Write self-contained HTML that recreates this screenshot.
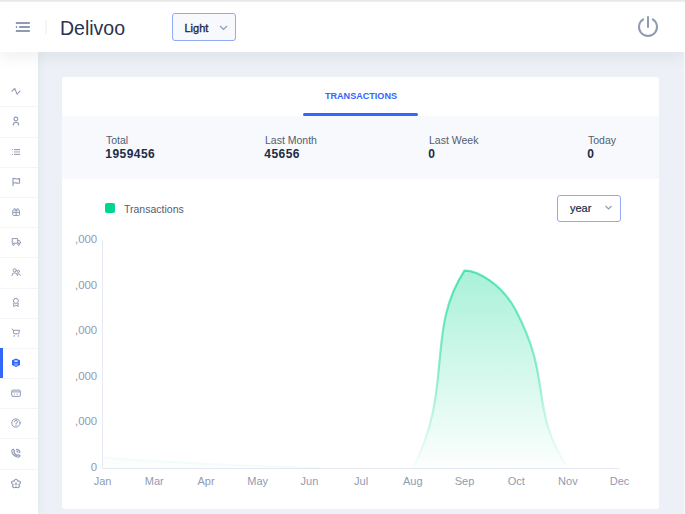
<!DOCTYPE html>
<html><head><meta charset="utf-8">
<style>
*{box-sizing:border-box;margin:0;padding:0}
html,body{width:685px;height:514px;overflow:hidden}
body{background:#edf1f7;font-family:"Liberation Sans",sans-serif;color:#222b45;position:relative}
.topstrip{position:absolute;left:0;top:0;width:685px;height:2px;background:linear-gradient(#e4e6e6,#f0f1f1);z-index:10}
.header{position:absolute;left:0;top:0;width:685px;height:52px;background:#fff;box-shadow:0 6px 14px 0 rgba(44,51,73,0.07);z-index:5}
.sidebar{position:absolute;left:0;top:52px;width:38px;height:462px;background:#fff;z-index:3;box-shadow:2px 0 8px rgba(44,51,73,0.05)}
.card{position:absolute;left:62px;top:77px;width:597px;height:431.6px;background:#fff;border-radius:3px}
.abs{position:absolute}
.lbl{font-size:10.5px;line-height:13px;color:#535d72;white-space:nowrap}
.val{font-size:12px;line-height:14px;letter-spacing:0.45px;font-weight:bold;color:#222b45;white-space:nowrap}
</style></head><body>
<div class="topstrip"></div>
<div class="header">
  <svg class="abs" style="left:0;top:0" width="40" height="40" viewBox="0 0 40 40">
    <g fill="#8f9bb3">
      <rect x="15.8" y="22" width="14.1" height="1.9" rx="0.5"/>
      <rect x="15.8" y="26" width="1.4" height="1.9" rx="0.3"/>
      <rect x="19" y="26" width="10.9" height="1.9" rx="0.5"/>
      <rect x="15.8" y="30" width="14.1" height="1.9" rx="0.5"/>
    </g>
  </svg>
  <div class="abs" style="left:45px;top:20px;width:1.5px;height:14px;background:#f4f5f9"></div>
  <div class="abs" style="left:60px;top:16px;font-size:19.5px;line-height:24px;color:#2a3350">Delivoo</div>
  <div class="abs" style="left:172px;top:13px;width:64px;height:28px;border:1px solid #91a9f7;border-radius:3px;background:#f7f9fc"></div>
  <div class="abs" style="left:184.5px;top:21px;font-size:11px;line-height:14px;color:#222b45;-webkit-text-stroke:0.35px #222b45">Light</div>
  <svg class="abs" style="left:219px;top:25px" width="9" height="6" viewBox="0 0 9 6"><path d="M1 1 L4.5 4.5 L8 1" stroke="#8f9bb3" stroke-width="1.2" fill="none"/></svg>
  <svg class="abs" style="left:636px;top:14px" width="24" height="24" viewBox="0 0 24 24">
    <path d="M7.2 5.3 A9 9 0 1 0 16.8 5.3" stroke="#8f9bb3" stroke-width="2" fill="none" stroke-linecap="round"/>
    <line x1="12" y1="3" x2="12" y2="13" stroke="#8f9bb3" stroke-width="2" stroke-linecap="round"/>
  </svg>
</div>
<div class="abs" style="left:684px;top:52px;width:1px;height:462px;background:#f6f8fb;z-index:20"></div>
<div class="sidebar">
<div class="abs" style="left:0;top:54.4px;width:38px;height:1px;background:#f2f4f8"></div>
<div class="abs" style="left:0;top:84.6px;width:38px;height:1px;background:#f2f4f8"></div>
<div class="abs" style="left:0;top:114.8px;width:38px;height:1px;background:#f2f4f8"></div>
<div class="abs" style="left:0;top:144.9px;width:38px;height:1px;background:#f2f4f8"></div>
<div class="abs" style="left:0;top:175.1px;width:38px;height:1px;background:#f2f4f8"></div>
<div class="abs" style="left:0;top:205.3px;width:38px;height:1px;background:#f2f4f8"></div>
<div class="abs" style="left:0;top:235.5px;width:38px;height:1px;background:#f2f4f8"></div>
<div class="abs" style="left:0;top:265.7px;width:38px;height:1px;background:#f2f4f8"></div>
<div class="abs" style="left:0;top:295.8px;width:38px;height:1px;background:#f2f4f8"></div>
<div class="abs" style="left:0;top:326.0px;width:38px;height:1px;background:#f2f4f8"></div>
<div class="abs" style="left:0;top:356.2px;width:38px;height:1px;background:#f2f4f8"></div>
<div class="abs" style="left:0;top:386.4px;width:38px;height:1px;background:#f2f4f8"></div>
<div class="abs" style="left:0;top:416.6px;width:38px;height:1px;background:#f2f4f8"></div>
<div class="abs" style="left:0;top:296px;width:3px;height:30px;background:#3366ff"></div>
<svg class="abs" style="left:6px;top:29px" width="20" height="20" viewBox="0 0 20 20"><polyline points="5.8,10.3 8.7,7.4 11.1,13.2 14,10.1" fill="none" stroke="#8f9bb3" stroke-width="1.05" stroke-linejoin="round" stroke-linecap="round"/></svg>
<svg class="abs" style="left:6px;top:59px" width="20" height="20" viewBox="0 0 20 20"><circle cx="9.9" cy="8" r="1.9" fill="none" stroke="#8f9bb3" stroke-width="1.15"/><path d="M7.3 13.9 A2.65 2.65 0 0 1 12.6 13.9" fill="none" stroke="#8f9bb3" stroke-width="1.2" stroke-linecap="round"/></svg>
<svg class="abs" style="left:6px;top:90px" width="20" height="20" viewBox="0 0 20 20"><g fill="#8f9bb3"><rect x="6" y="7" width="1" height="0.9"/><rect x="8" y="7" width="6" height="0.9"/><rect x="6" y="9.5" width="1" height="0.8" opacity=".6"/><rect x="8" y="9.5" width="6" height="0.8" opacity=".6"/><rect x="6" y="12" width="1" height="0.9"/><rect x="8" y="12" width="6" height="0.9"/><rect x="8" y="8.2" width="6" height="3.5" opacity=".25"/></g></svg>
<svg class="abs" style="left:6px;top:120px" width="20" height="20" viewBox="0 0 20 20"><path d="M7 13.6 V6.6 C8.6 5.8 10.2 7.2 11.5 7 C12.4 6.9 13 6.6 13.5 6.5 V11 C12.5 11.6 11 11.2 10 10.9 C9 10.6 8 10.7 7 11.1" fill="none" stroke="#8f9bb3" stroke-width="1.15" stroke-linejoin="round" stroke-linecap="round"/></svg>
<svg class="abs" style="left:6px;top:150px" width="20" height="20" viewBox="0 0 20 20"><g fill="none" stroke="#8f9bb3" stroke-width="1"><rect x="6.7" y="8" width="6.8" height="5.4" rx="0.8"/><line x1="6.7" y1="10.4" x2="13.5" y2="10.4"/><line x1="10.1" y1="8" x2="10.1" y2="13.4"/><path d="M10.1 8 C9 6 7.5 6.2 7.8 7.6 M10.1 8 C11.2 6 12.7 6.2 12.4 7.6"/></g></svg>
<svg class="abs" style="left:6px;top:180px" width="20" height="20" viewBox="0 0 20 20"><g fill="none" stroke="#8f9bb3" stroke-width="1" stroke-linejoin="round"><path d="M6.2 11.2 V6.6 H11.7 V11.2 Z"/><path d="M11.7 8.5 H13.4 L14.4 10 V11.2 H11.7"/><circle cx="7.4" cy="12.5" r="0.9"/><circle cx="12.7" cy="12.5" r="0.9"/></g></svg>
<svg class="abs" style="left:6px;top:210px" width="20" height="20" viewBox="0 0 20 20"><g fill="none" stroke="#8f9bb3" stroke-width="1" stroke-linecap="round"><circle cx="8.7" cy="8.3" r="1.6"/><path d="M5.9 13.6 A2.8 2.8 0 0 1 11.5 13.6"/><circle cx="12.4" cy="9.4" r="1.1"/><path d="M11.3 12 A2 2 0 0 1 14.4 13.4"/></g></svg>
<svg class="abs" style="left:6px;top:241px" width="20" height="20" viewBox="0 0 20 20"><g fill="none" stroke="#8f9bb3" stroke-width="1"><circle cx="9.9" cy="7.9" r="2.5"/><path d="M7.7 10 V13.6 L9.9 12.1 L12.1 13.6 V10"/></g></svg>
<svg class="abs" style="left:6px;top:271px" width="20" height="20" viewBox="0 0 20 20"><g fill="none" stroke="#8f9bb3" stroke-width="1" stroke-linecap="round" stroke-linejoin="round"><path d="M6 5.9 L7.3 7.2 L7.9 10.8 H12.6 L13.6 7.3 H7.4"/></g><circle cx="8.1" cy="12.9" r="0.75" fill="#8f9bb3"/><circle cx="12.4" cy="12.9" r="0.75" fill="#8f9bb3"/></svg>
<svg class="abs" style="left:6px;top:301px" width="20" height="20" viewBox="0 0 20 20"><path d="M10 5.4 L14 7.3 V12 L10 13.9 L6 12 V7.3 Z" fill="#3366ff"/><path d="M8.4 7.4 H11.6 V8.8 H8.4 Z" fill="#fff"/><path d="M8.3 9.9 H11.7 V12.3 L10 13 L8.3 12.3 Z" fill="#fff" opacity="0.45"/><path d="M8.3 10.9 H11.7" stroke="#3366ff" stroke-width="0.6"/></svg>
<svg class="abs" style="left:6px;top:331px" width="20" height="20" viewBox="0 0 20 20"><g fill="none" stroke="#8f9bb3" stroke-width="1"><rect x="5.7" y="7.1" width="8.7" height="6.3" rx="1.3"/><line x1="5.7" y1="8.9" x2="14.4" y2="8.9"/></g><g fill="#8f9bb3"><rect x="7.8" y="10.6" width="1.2" height="1" opacity=".8"/><rect x="10.4" y="10.6" width="1.5" height="1" opacity=".8"/></g></svg>
<svg class="abs" style="left:6px;top:361px" width="20" height="20" viewBox="0 0 20 20"><g fill="none" stroke="#8f9bb3" stroke-width="1" stroke-linecap="round"><circle cx="10" cy="10" r="4.1"/><path d="M8.5 8.8 A1.5 1.4 0 1 1 10.1 10.2 V11"/></g><circle cx="10" cy="12.4" r="0.55" fill="#8f9bb3"/></svg>
<svg class="abs" style="left:6px;top:391px" width="20" height="20" viewBox="0 0 20 20"><g fill="none" stroke="#8f9bb3" stroke-width="1.15" stroke-linecap="round" stroke-linejoin="round"><path d="M7.2 6.2 C6 6.4 5.6 7.4 6 9 C6.8 11.6 8.6 13.3 11.3 14 C12.8 14.3 13.8 13.8 14 12.6 L12.3 11.7 L11.2 12.4 C9.6 11.8 8.4 10.5 7.9 9 L8.6 7.9 Z"/><path d="M10.6 6.3 A3.2 3.2 0 0 1 13.8 9.5"/><path d="M10.4 8 A1.6 1.6 0 0 1 12 9.6"/></g></svg>
<svg class="abs" style="left:6px;top:422px" width="20" height="20" viewBox="0 0 20 20"><g fill="none" stroke="#8f9bb3" stroke-width="1.2" stroke-linejoin="round"><path d="M10 5.3 C11.4 5.3 11.8 6.4 11.9 7.3 C12.9 6.9 14.2 7.1 14.4 8.3 C14.6 9.5 13.6 10.2 12.9 10.6 C13.5 11.5 13.6 12.9 12.6 13.5 C11.6 14.1 10.6 13.4 10 12.8 C9.4 13.4 8.4 14.1 7.4 13.5 C6.4 12.9 6.5 11.5 7.1 10.6 C6.4 10.2 5.4 9.5 5.6 8.3 C5.8 7.1 7.1 6.9 8.1 7.3 C8.2 6.4 8.6 5.3 10 5.3 Z"/></g><circle cx="10" cy="9.9" r="1.3" fill="#8f9bb3" opacity=".8"/></svg>
</div>
<div class="card"></div>
<div class="abs" style="left:62px;top:116px;width:597px;height:63px;background:#f7f9fc"></div>
<div class="abs" style="left:311px;top:88.5px;width:100px;height:14px;font-size:9.8px;line-height:14px;font-weight:bold;color:#3366ff;text-align:center;transform:scaleX(0.925);transform-origin:50% 50%;white-space:nowrap">TRANSACTIONS</div>
<div class="abs" style="left:303px;top:113px;width:115px;height:3px;border-radius:2px;background:#3366ff"></div>
<div class="abs lbl" style="left:106px;top:133.5px">Total</div>
<div class="abs val" style="left:105.3px;top:147px">1959456</div>
<div class="abs lbl" style="left:265px;top:133.5px">Last Month</div>
<div class="abs val" style="left:264.3px;top:147px">45656</div>
<div class="abs lbl" style="left:429px;top:133.5px">Last Week</div>
<div class="abs val" style="left:428.3px;top:147px">0</div>
<div class="abs lbl" style="left:588px;top:133.5px">Today</div>
<div class="abs val" style="left:587.3px;top:147px">0</div>
<div class="abs" style="left:105px;top:203px;width:10px;height:10px;border-radius:2px;background:#00d68f"></div>
<div class="abs lbl" style="left:124px;top:203px">Transactions</div>
<div class="abs" style="left:557px;top:195px;width:64px;height:27px;border:1px solid #91a9f7;border-radius:3px;background:#fff"></div>
<div class="abs" style="left:570px;top:201px;font-size:11px;line-height:14px;color:#222b45;-webkit-text-stroke:0.2px #222b45">year</div>
<svg class="abs" style="left:604px;top:205px" width="9" height="6" viewBox="0 0 9 6"><path d="M1.5 1 L4.5 4 L7.5 1" stroke="#8f9bb3" stroke-width="1.1" fill="none"/></svg>
<svg class="abs" style="left:0;top:0" width="685" height="514" viewBox="0 0 685 514">
  <defs>
    <linearGradient id="gf" x1="0" y1="269" x2="0" y2="468" gradientUnits="userSpaceOnUse">
      <stop offset="0" stop-color="#00d68f" stop-opacity="0.34"/>
      <stop offset="1" stop-color="#00d68f" stop-opacity="0.01"/>
    </linearGradient>
    <linearGradient id="gs" x1="0" y1="269" x2="0" y2="468" gradientUnits="userSpaceOnUse">
      <stop offset="0" stop-color="#00d68f" stop-opacity="0.6"/>
      <stop offset="0.5" stop-color="#00d68f" stop-opacity="0.42"/>
      <stop offset="0.85" stop-color="#00d68f" stop-opacity="0.12"/>
      <stop offset="1" stop-color="#00d68f" stop-opacity="0.02"/>
    </linearGradient>
  </defs>
  <line x1="102.5" y1="240" x2="102.5" y2="468" stroke="#e6eaf3" stroke-width="1"/>
  <line x1="102.6" y1="468.5" x2="619.6" y2="468.5" stroke="#e4e9f2" stroke-width="1"/>
  <path d="M102.6 457.5 C140 460.5 220 465 320 468 L102.6 468 Z" fill="#00d68f" fill-opacity="0.015"/>
  <path d="M102.6 457.5 C140 460.5 220 465 320 468" stroke="#00d68f" stroke-opacity="0.04" stroke-width="2" fill="none"/>
  <path d="M412.80 468.00 C454.05 389.25 425.38 330.00 464.50 270.60 C477.08 270.60 501.51 282.95 516.20 311.00 C553.21 381.65 528.52 408.20 567.90 468.00 Z" fill="url(#gf)"/>
  <path d="M412.80 468.00 C454.05 389.25 425.38 330.00 464.50 270.60 C477.08 270.60 501.51 282.95 516.20 311.00 C553.21 381.65 528.52 408.20 567.90 468.00" fill="none" stroke="url(#gs)" stroke-width="2.2"/>
  <g font-family="Liberation Sans, sans-serif" font-size="11.4" fill="#8f9bb3" text-anchor="end">
    <text x="97.2" y="243.3">,000</text>
    <text x="97.2" y="288.8">,000</text>
    <text x="97.2" y="334.3">,000</text>
    <text x="97.2" y="379.8">,000</text>
    <text x="97.2" y="425.3">,000</text>
    <text x="97.2" y="471">0</text>
  </g>
  <g font-family="Liberation Sans, sans-serif" font-size="11" fill="#8f9bb3" text-anchor="middle">
    <text x="102.6" y="485.3">Jan</text><text x="154.3" y="485.3">Mar</text><text x="206.0" y="485.3">Apr</text><text x="257.7" y="485.3">May</text><text x="309.4" y="485.3">Jun</text><text x="361.1" y="485.3">Jul</text><text x="412.8" y="485.3">Aug</text><text x="464.5" y="485.3">Sep</text><text x="516.2" y="485.3">Oct</text><text x="567.9" y="485.3">Nov</text><text x="619.6" y="485.3">Dec</text>
  </g>
</svg>
</body></html>
